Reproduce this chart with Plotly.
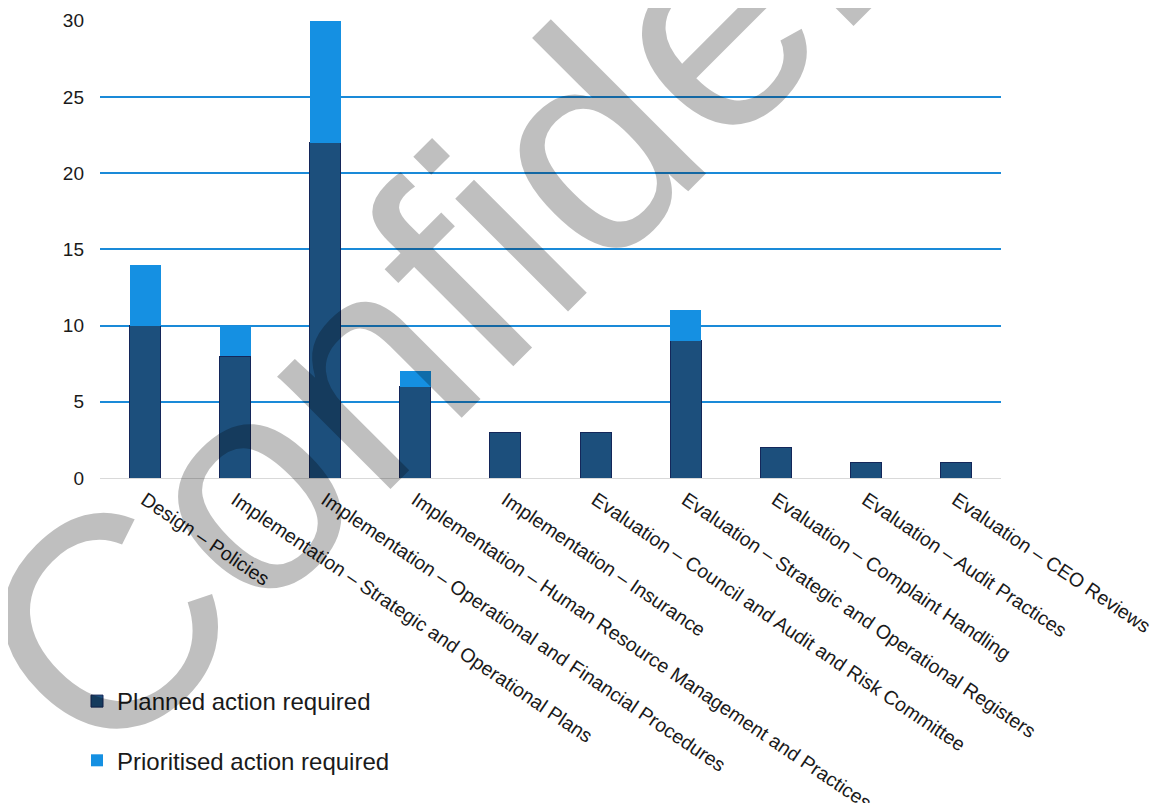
import plotly.graph_objects as go

categories = [
    "Design – Policies",
    "Implementation – Strategic and Operational Plans",
    "Implementation – Operational and Financial Procedures",
    "Implementation – Human Resource Management and Practices",
    "Implementation – Insurance",
    "Evaluation – Council and Audit and Risk Committee",
    "Evaluation – Strategic and Operational Registers",
    "Evaluation – Complaint Handling",
    "Evaluation – Audit Practices",
    "Evaluation – CEO Reviews",
]
planned = [10, 8, 22, 6, 3, 3, 9, 2, 1, 1]
prioritised = [4, 2, 8, 1, 0, 0, 2, 0, 0, 0]
y_ticks = [0, 5, 10, 15, 20, 25, 30]

FONT = "Arial, Liberation Sans, sans-serif"
BODY = 8  # default page margin around the plot div
W, H = 1159 - BODY, 803 - BODY
L, R, T, B = 100 - BODY, 158, 20 - BODY, 325
pw, ph = W - L - R, H - T - B

def px_to_paper(x, y):
    # x, y are page pixels (as in the reference image)
    return (x - BODY - L) / pw, (BODY + T + ph - y) / ph

fig = go.Figure()
fig.add_trace(go.Bar(
    x=categories, y=planned, name="Planned action required",
    marker=dict(color="#1c4f7c", line=dict(color="#14275a", width=1)),
    legendgroup="a",
))
fig.add_trace(go.Bar(
    x=categories, y=prioritised, name="Prioritised action required",
    marker=dict(color="#1590e2", line=dict(color="#1590e2", width=0)),
    legendgroup="b",
))

wx, wy = px_to_paper(592, 139)
fig.add_annotation(
    text="Confidential", xref="paper", yref="paper", x=wx, y=wy,
    xanchor="center", yanchor="middle", showarrow=False, textangle=-45,
    font=dict(family=FONT, size=302, color="rgba(0,0,0,0.25)"),
)

lx, ly = px_to_paper(77, 679)
fig.update_layout(
    width=W, height=H,
    margin=dict(l=L, r=R, t=T, b=B, autoexpand=False),
    barmode="stack", bargap=0.656,
    plot_bgcolor="white", paper_bgcolor="white",
    font=dict(family=FONT, color="#1a1a1a"),
    showlegend=True,
    legend=dict(
        x=lx, y=ly, xanchor="left", yanchor="top", orientation="v",
        traceorder="grouped", tracegroupgap=25,
        font=dict(family=FONT, size=24, color="#1a1a1a"),
        bgcolor="rgba(0,0,0,0)", itemwidth=30,
    ),
    xaxis=dict(
        tickangle=34, tickfont=dict(family=FONT, size=19.5, color="#1a1a1a"),
        showgrid=False, showline=False, ticks="", ticklabelstandoff=6,
    ),
    yaxis=dict(
        range=[0, 30.05], tickvals=y_ticks,
        tickfont=dict(family=FONT, size=19, color="#1a1a1a"),
        showgrid=True, gridcolor="#1a8ad8", gridwidth=1.5,
        zeroline=True, zerolinecolor="#d9d9d9", zerolinewidth=1,
        showline=False, ticks="", ticklabelstandoff=15,
    ),
)

fig.write_html("out.html")
